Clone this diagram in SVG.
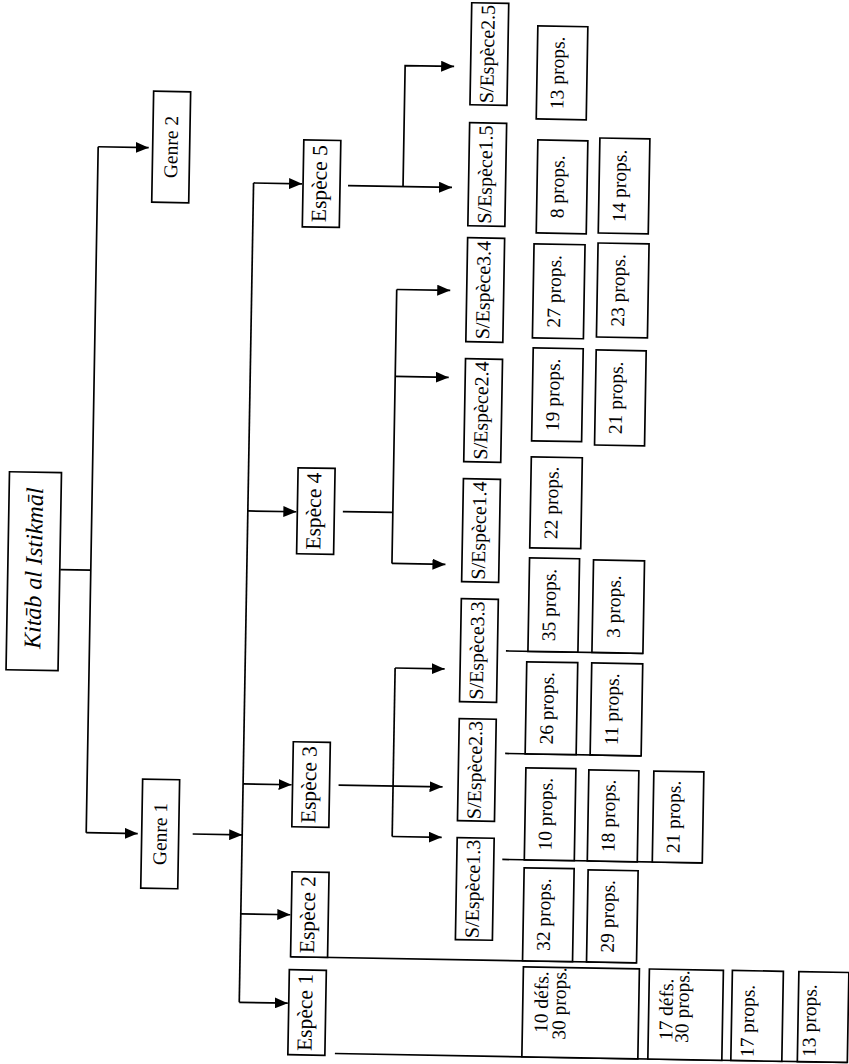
<svg xmlns="http://www.w3.org/2000/svg" width="849" height="1064" viewBox="0 0 849 1064">
<defs>
<marker id="ah" markerUnits="userSpaceOnUse" markerWidth="13" markerHeight="11" refX="13" refY="5.5" orient="auto"><path d="M0,0 L13,5.5 L0,11 z" fill="#000"/></marker>
<style>
.b{fill:#fff;stroke:#000;stroke-width:1.7}
.l{fill:none;stroke:#000;stroke-width:1.7}
.a{marker-end:url(#ah)}
text{font-family:"Liberation Serif","Times New Roman",serif;fill:#000;text-anchor:middle}
.k{font-size:24px;font-style:italic}
.g{font-size:19.5px}
.e{font-size:21.5px}
.s{font-size:20px}
.p{font-size:19.5px}
.st{text-anchor:start}
</style>
</defs>
<rect width="849" height="1064" fill="#fff"/>
<g transform="rotate(1 424 532)">
<g id="connectors">
<path class="l" d="M61,576 H91.5 M91.5,152.5 V838.5"/>
<path class="l a" d="M91.5,152.5 H142"/>
<path class="l a" d="M91.5,838.5 H143"/>
<path class="l a" d="M198,838 H247.5"/>
<path class="l" d="M247.5,186 V1005.5"/>
<path class="l a" d="M247.5,186 H296"/>
<path class="l a" d="M247.5,514 H296"/>
<path class="l a" d="M247.5,787 H296"/>
<path class="l a" d="M247.5,917 H297"/>
<path class="l a" d="M247.5,1005.5 H296"/>
<path class="l a" d="M342,187 H446"/>
<path class="l a" d="M397,187 V66 H446"/>
<path class="l" d="M342.5,513 H392.5 M392.5,290 V564"/>
<path class="l a" d="M392.5,290 H446"/>
<path class="l a" d="M392.5,377 H446"/>
<path class="l a" d="M392.5,564 H446"/>
<path class="l a" d="M343,786.5 H447"/>
<path class="l" d="M397.5,668.5 V837"/>
<path class="l a" d="M397.5,668.5 H447"/>
<path class="l a" d="M397.5,837 H447"/>
<path class="l" d="M298,959 H644 M344,1055 H856.5 M508,858 H708 M509,752 H645 M508,649.5 H645"/>
</g>
<g id="root"><rect class="b" x="8.5" y="479" width="52" height="198"/><text class="k" transform="translate(34.5,575) rotate(-90)" dy="0.33em">Kitāb al Istikmāl</text></g>
<g id="genre2"><rect class="b" x="146" y="96" width="37" height="111"/><text class="g" transform="translate(164.5,151.5) rotate(-90)" dy="0.33em">Genre 2</text></g>
<g id="genre1"><rect class="b" x="147" y="784" width="37" height="109"/><text class="g" transform="translate(165.5,838.5) rotate(-90)" dy="0.33em">Genre 1</text></g>
<g id="espece5"><rect class="b" x="297" y="142" width="37" height="87"/><text class="e" transform="translate(315.5,185.5) rotate(-90)" dy="0.23em">Espèce 5</text></g>
<g id="espece4"><rect class="b" x="297" y="470" width="37" height="86"/><text class="e" transform="translate(315.5,513) rotate(-90)" dy="0.23em">Espèce 4</text></g>
<g id="espece3"><rect class="b" x="297" y="744" width="37" height="85"/><text class="e" transform="translate(315.5,786.5) rotate(-90)" dy="0.23em">Espèce 3</text></g>
<g id="espece2"><rect class="b" x="298" y="874" width="37" height="85"/><text class="e" transform="translate(316.5,916.5) rotate(-90)" dy="0.23em">Espèce 2</text></g>
<g id="espece1"><rect class="b" x="297" y="972" width="37" height="85"/><text class="e" transform="translate(315.5,1014.5) rotate(-90)" dy="0.23em">Espèce 1</text></g>
<g id="se25"><rect class="b" x="462.5" y="2" width="37" height="102"/><text class="s" transform="translate(481,53) rotate(-90)" dy="0.23em">S/Espèce2.5</text></g>
<g id="se15"><rect class="b" x="462.5" y="122" width="37" height="103"/><text class="s" transform="translate(481,173.5) rotate(-90)" dy="0.23em">S/Espèce1.5</text></g>
<g id="se34"><rect class="b" x="462.5" y="237" width="37" height="104"/><text class="s" transform="translate(481,289) rotate(-90)" dy="0.23em">S/Espèce3.4</text></g>
<g id="se24"><rect class="b" x="462.5" y="358" width="37" height="103"/><text class="s" transform="translate(481,409.5) rotate(-90)" dy="0.23em">S/Espèce2.4</text></g>
<g id="se14"><rect class="b" x="462.5" y="478" width="37" height="103"/><text class="s" transform="translate(481,529.5) rotate(-90)" dy="0.23em">S/Espèce1.4</text></g>
<g id="se33"><rect class="b" x="462.5" y="598" width="37" height="103"/><text class="s" transform="translate(481,649.5) rotate(-90)" dy="0.23em">S/Espèce3.3</text></g>
<g id="se23"><rect class="b" x="462.5" y="718" width="37" height="102"/><text class="s" transform="translate(481,769) rotate(-90)" dy="0.23em">S/Espèce2.3</text></g>
<g id="se13"><rect class="b" x="462.5" y="837" width="37" height="102"/><text class="s" transform="translate(481,888) rotate(-90)" dy="0.23em">S/Espèce1.3</text></g>
<g id="p25a"><rect class="b" x="529" y="24" width="50" height="93"/><text class="p" transform="translate(554,70.5) rotate(-90)" dy="0.1em">13 props.</text></g>
<g id="p15a"><rect class="b" x="531" y="138" width="50" height="93"/><text class="p" transform="translate(556,184.5) rotate(-90)" dy="0.1em">8 props.</text></g>
<g id="p15b"><rect class="b" x="593" y="135" width="50" height="95"/><text class="p" transform="translate(618,182.5) rotate(-90)" dy="0.1em">14 props.</text></g>
<g id="p34a"><rect class="b" x="529" y="242" width="51" height="94"/><text class="p" transform="translate(554.5,289) rotate(-90)" dy="0.1em">27 props.</text></g>
<g id="p34b"><rect class="b" x="593" y="240" width="51" height="94"/><text class="p" transform="translate(618.5,287) rotate(-90)" dy="0.1em">23 props.</text></g>
<g id="p24a"><rect class="b" x="530" y="346" width="50" height="93"/><text class="p" transform="translate(555,392.5) rotate(-90)" dy="0.1em">19 props.</text></g>
<g id="p24b"><rect class="b" x="593" y="347" width="50" height="95"/><text class="p" transform="translate(618,394.5) rotate(-90)" dy="0.1em">21 props.</text></g>
<g id="p14a"><rect class="b" x="530" y="455" width="51" height="91"/><text class="p" transform="translate(555.5,500.5) rotate(-90)" dy="0.1em">22 props.</text></g>
<g id="p33a"><rect class="b" x="530" y="556" width="50" height="93.5"/><text class="p" transform="translate(555,602.75) rotate(-90)" dy="0.1em">35 props.</text></g>
<g id="p33b"><rect class="b" x="594" y="557" width="51" height="92.5"/><text class="p" transform="translate(619.5,603.25) rotate(-90)" dy="0.1em">3 props.</text></g>
<g id="p23a"><rect class="b" x="529" y="660" width="51" height="92"/><text class="p" transform="translate(554.5,706) rotate(-90)" dy="0.1em">26 props.</text></g>
<g id="p23b"><rect class="b" x="594" y="660" width="51" height="92"/><text class="p" transform="translate(619.5,706) rotate(-90)" dy="0.1em">11 props.</text></g>
<g id="p13a"><rect class="b" x="530" y="766" width="50" height="92"/><text class="p" transform="translate(555,812) rotate(-90)" dy="0.1em">10 props.</text></g>
<g id="p13b"><rect class="b" x="593" y="767" width="50" height="91"/><text class="p" transform="translate(618,812.5) rotate(-90)" dy="0.1em">18 props.</text></g>
<g id="p13c"><rect class="b" x="658" y="767" width="50" height="91"/><text class="p" transform="translate(683,812.5) rotate(-90)" dy="0.1em">21 props.</text></g>
<g id="p2a"><rect class="b" x="530" y="866" width="50" height="93"/><text class="p" transform="translate(555,912.5) rotate(-90)" dy="0.1em">32 props.</text></g>
<g id="p2b"><rect class="b" x="594" y="867" width="50" height="92"/><text class="p" transform="translate(619,913) rotate(-90)" dy="0.1em">29 props.</text></g>
<g id="p1a"><rect class="b" x="531" y="965" width="116" height="90"/><text class="p" transform="translate(556,1000) rotate(-90)">10 défs.</text><text class="p" transform="translate(574,1001) rotate(-90)">30 props.</text></g>
<g id="p1b"><rect class="b" x="657" y="965" width="74" height="90"/><text class="p" transform="translate(681,1005) rotate(-90)">17 défs.</text><text class="p" transform="translate(697,1002) rotate(-90)">30 props.</text></g>
<g id="p1c"><rect class="b" x="740" y="965" width="51" height="90"/><text class="p st" transform="translate(762.5,1051.5) rotate(-90)">17 props.</text></g>
<g id="p1d"><rect class="b" x="806.5" y="965" width="50" height="90"/><text class="p st" transform="translate(824.5,1050) rotate(-90)">13 props.</text></g>
</g>
</svg>
